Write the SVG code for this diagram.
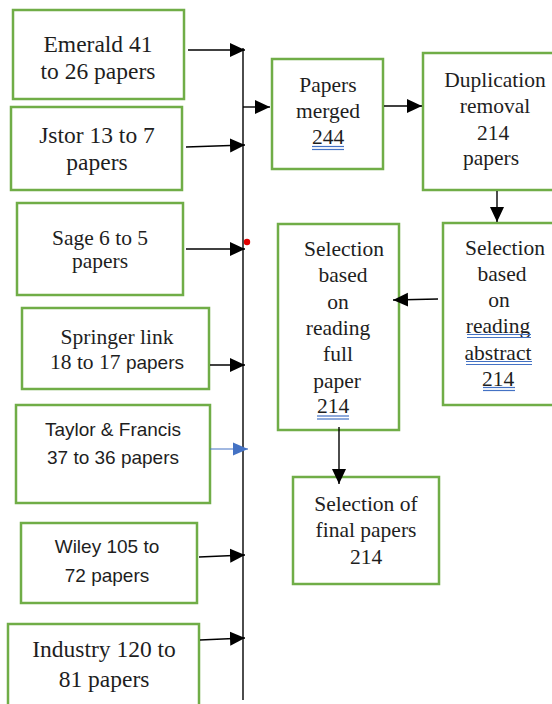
<svg xmlns="http://www.w3.org/2000/svg" width="552" height="704" viewBox="0 0 552 704">
<style>
.box{fill:#fff;stroke:#70AD47;stroke-width:2.5}
.sf{font-family:'Liberation Serif','Times New Roman',serif;fill:#1e1e1e;text-anchor:middle}
.ss{font-family:'Liberation Sans',Arial,sans-serif;fill:#1e1e1e;text-anchor:middle;font-size:19px}
.big{font-size:23.5px}
.mid{font-size:21.5px}
.ln{stroke:#000;stroke-width:1.4;fill:none}
.ul{stroke:#4472C4;stroke-width:1.2}
</style>
<defs>
<marker id="ah" markerWidth="15" markerHeight="15" refX="15" refY="7.5" orient="auto" markerUnits="userSpaceOnUse" viewBox="0 0 15 15"><path d="M0,0.5 L15,7.5 L0,14.5 Z" fill="#000"/></marker>
<marker id="ahb" markerWidth="15" markerHeight="15" refX="15" refY="7.5" orient="auto" markerUnits="userSpaceOnUse" viewBox="0 0 15 15"><path d="M0,1 L15,7.5 L0,14 Z" fill="#4472C4"/></marker>
</defs>
<rect width="552" height="704" fill="#fff"/>
<g id="emerald"><rect class="box" x="13" y="10" width="171" height="89"/><text class="sf big" font-family="Liberation Serif, serif" x="98" y="52">Emerald 41</text><text class="sf big" font-family="Liberation Serif, serif" x="98" y="79">to 26 papers</text></g>
<g id="jstor"><rect class="box" x="11" y="107" width="171" height="83"/><text class="sf big" font-family="Liberation Serif, serif" x="97" y="143">Jstor 13 to 7</text><text class="sf big" font-family="Liberation Serif, serif" x="97" y="170">papers</text></g>
<g id="sage"><rect class="box" x="17" y="203" width="166" height="92"/><text class="sf mid" font-family="Liberation Serif, serif" x="100" y="245">Sage 6 to 5</text><text class="sf mid" font-family="Liberation Serif, serif" x="100" y="268">papers</text></g>
<g id="springer"><rect class="box" x="22" y="308" width="187" height="81"/><text class="sf mid" font-family="Liberation Serif, serif" x="117" y="344">Springer link</text><text class="sf mid" font-family="Liberation Serif, serif" x="117" y="369">18 to 17 <tspan font-family="Liberation Sans, sans-serif" font-size="19">papers</tspan></text></g>
<g id="taylor"><rect class="box" x="16" y="405" width="194" height="98"/><text class="ss" x="113" y="436">Taylor &amp; Francis</text><text class="ss" x="113" y="464">37 to 36 papers</text></g>
<g id="wiley"><rect class="box" x="21" y="523" width="176" height="80"/><text class="ss" x="107" y="553">Wiley 105 to</text><text class="ss" x="107" y="582">72 papers</text></g>
<g id="industry"><rect class="box" x="8" y="624" width="191" height="90"/><text class="sf big" font-family="Liberation Serif, serif" x="104" y="657">Industry 120 to</text><text class="sf big" font-family="Liberation Serif, serif" x="104" y="687">81 papers</text></g>
<g id="merged" font-family="Liberation Serif, serif"><rect class="box" x="272" y="59" width="111" height="110"/><text class="sf mid" font-family="Liberation Serif, serif" x="328" y="92">Papers</text><text class="sf mid" font-family="Liberation Serif, serif" x="328" y="118">merged</text><text class="sf mid" font-family="Liberation Serif, serif" x="328" y="144">244</text><line class="ul" x1="312" y1="146.5" x2="344" y2="146.5"/><line class="ul" x1="312" y1="149.5" x2="344" y2="149.5"/></g>
<g id="duplication"><rect class="box" x="423" y="53" width="140" height="137"/><text class="sf mid" font-family="Liberation Serif, serif" x="495" y="87">Duplication</text><text class="sf mid" font-family="Liberation Serif, serif" x="495" y="113">removal</text><text class="sf mid" font-family="Liberation Serif, serif" x="493" y="140">214</text><text class="sf mid" font-family="Liberation Serif, serif" x="491" y="165">papers</text></g>
<g id="abstract"><rect class="box" x="443" y="223" width="120" height="182"/><text class="sf mid" font-family="Liberation Serif, serif" x="505" y="255">Selection</text><text class="sf mid" font-family="Liberation Serif, serif" x="502" y="281">based</text><text class="sf mid" font-family="Liberation Serif, serif" x="499" y="307">on</text><text class="sf mid" font-family="Liberation Serif, serif" x="498" y="333">reading</text><text class="sf mid" font-family="Liberation Serif, serif" x="498" y="360">abstract</text><text class="sf mid" font-family="Liberation Serif, serif" x="498" y="386">214</text><line class="ul" x1="467" y1="334.5" x2="531" y2="334.5"/><line class="ul" x1="467" y1="337.5" x2="531" y2="337.5"/><line class="ul" x1="466" y1="361.5" x2="532" y2="361.5"/><line class="ul" x1="466" y1="364.5" x2="532" y2="364.5"/><line class="ul" x1="483" y1="387.5" x2="515" y2="387.5"/><line class="ul" x1="483" y1="390.5" x2="515" y2="390.5"/></g>
<g id="fullpaper"><rect class="box" x="278" y="224" width="121" height="206"/><text class="sf mid" font-family="Liberation Serif, serif" x="344" y="256">Selection</text><text class="sf mid" font-family="Liberation Serif, serif" x="343" y="282">based</text><text class="sf mid" font-family="Liberation Serif, serif" x="338" y="309">on</text><text class="sf mid" font-family="Liberation Serif, serif" x="338" y="335">reading</text><text class="sf mid" font-family="Liberation Serif, serif" x="338" y="361">full</text><text class="sf mid" font-family="Liberation Serif, serif" x="337" y="388">paper</text><text class="sf mid" font-family="Liberation Serif, serif" x="333" y="413">214</text><line class="ul" x1="317" y1="416" x2="349" y2="416"/><line class="ul" x1="317" y1="419" x2="349" y2="419"/></g>
<g id="final"><rect class="box" x="293" y="477" width="146" height="107"/><text class="sf mid" font-family="Liberation Serif, serif" x="366" y="511">Selection of</text><text class="sf mid" font-family="Liberation Serif, serif" x="366" y="537">final papers</text><text class="sf mid" font-family="Liberation Serif, serif" x="366" y="564">214</text></g>
<g id="connectors">
<line class="ln" x1="243" y1="48" x2="243" y2="700"/>
<line class="ln" x1="188" y1="50" x2="245" y2="50" marker-end="url(#ah)"/>
<line class="ln" x1="186" y1="147" x2="245" y2="145" marker-end="url(#ah)"/>
<line class="ln" x1="186" y1="249" x2="245" y2="249" marker-end="url(#ah)"/>
<line class="ln" x1="210" y1="365" x2="245" y2="365" marker-end="url(#ah)"/>
<line x1="210" y1="449" x2="248" y2="449" stroke="#4472C4" stroke-width="1.2" marker-end="url(#ahb)"/>
<line class="ln" x1="199" y1="557" x2="245" y2="555" marker-end="url(#ah)"/>
<line class="ln" x1="200" y1="640" x2="245" y2="638" marker-end="url(#ah)"/>
<line class="ln" x1="243" y1="107" x2="270" y2="107" marker-end="url(#ah)"/>
<line class="ln" x1="384" y1="106" x2="422" y2="106" marker-end="url(#ah)"/>
<line class="ln" x1="497" y1="191" x2="497" y2="222" marker-end="url(#ah)"/>
<line class="ln" x1="438" y1="299" x2="393" y2="300" marker-end="url(#ah)"/>
<line class="ln" x1="339" y1="427" x2="339" y2="484" marker-end="url(#ah)"/>
<circle cx="247" cy="242" r="3.2" fill="#e00000"/>
</g>
</svg>
